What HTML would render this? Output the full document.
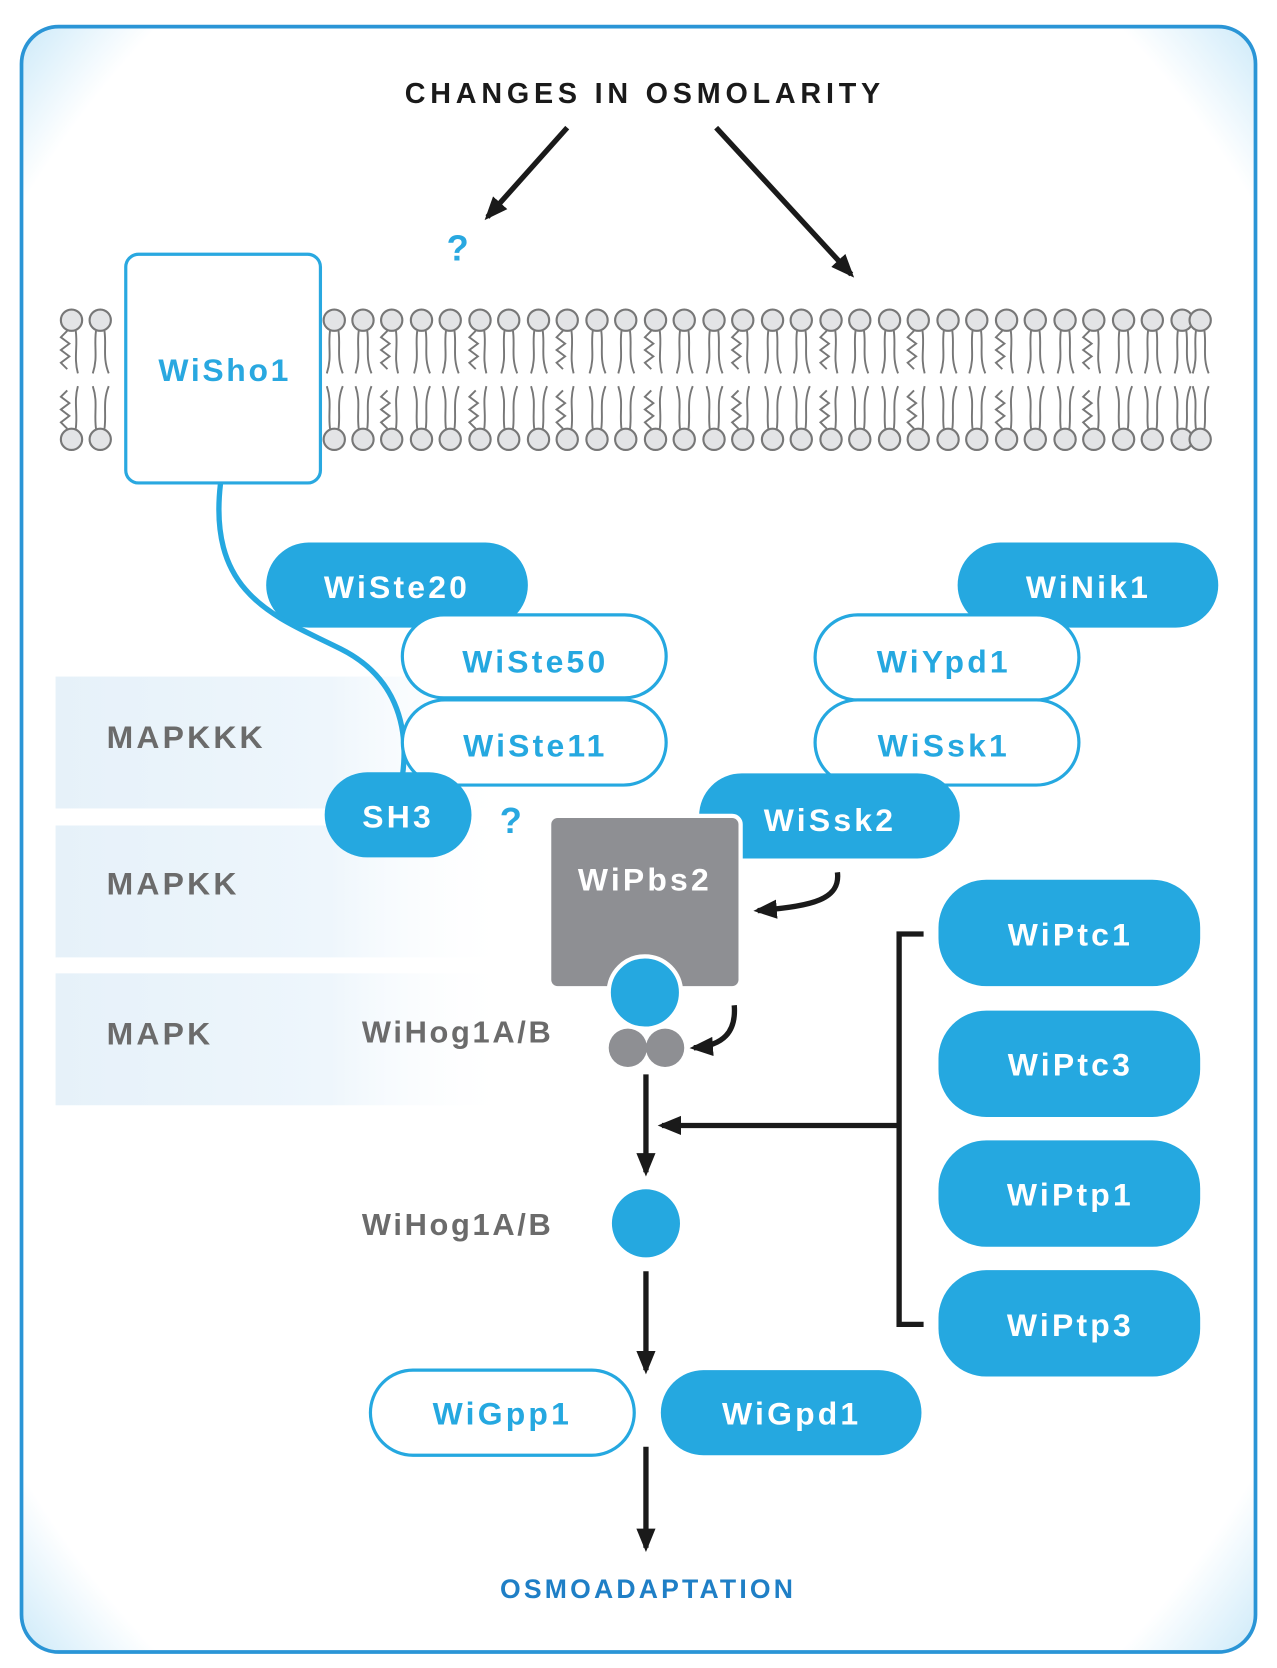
<!DOCTYPE html>
<html><head><meta charset="utf-8"><style>
html,body{margin:0;padding:0;background:#fff;width:1277px;height:1668px;overflow:hidden}
svg{display:block}
text{font-family:"Liberation Sans",sans-serif;font-weight:bold}
</style></head><body>
<svg width="1277" height="1668" viewBox="0 0 1200 1568" xmlns="http://www.w3.org/2000/svg">
<defs>
<radialGradient id="glow" cx="50%" cy="50%" r="72%">
<stop offset="88%" stop-color="#ffffff"/><stop offset="100%" stop-color="#c4e6f8"/>
</radialGradient>
<linearGradient id="band" x1="0" x2="1" y1="0" y2="0">
<stop offset="0" stop-color="#e6f1f9"/><stop offset="0.6" stop-color="#eef6fc"/><stop offset="1" stop-color="#ffffff" stop-opacity="0"/>
</linearGradient>
<marker id="ah" markerWidth="22" markerHeight="22" refX="18" refY="11" orient="auto" markerUnits="userSpaceOnUse">
<path d="M0,2 L22,11 L0,20 z" fill="#1a1a1a"/></marker>
<g id="lip">
<circle cx="0" cy="0" r="10" fill="#e3e4e6" stroke="#777" stroke-width="2"/>
<path d="M-4,10 C-6,25 -2,35 -7,50 M4,10 C6,25 2,35 8,50" fill="none" stroke="#777" stroke-width="1.8"/>
</g>
<g id="lipz">
<circle cx="0" cy="0" r="10" fill="#e3e4e6" stroke="#777" stroke-width="2"/>
<path d="M-4,10 l-6,6 l8,6 l-8,6 l8,6 l-8,6 l6,6 M4,10 C6,25 2,35 6,50" fill="none" stroke="#777" stroke-width="1.8"/>
</g>
</defs>
<rect x="20" y="25" width="1160" height="1528" rx="35" fill="url(#glow)" stroke="#2a95d6" stroke-width="3.5"/>

<rect x="52" y="636" width="430" height="124" fill="url(#band)"/>
<rect x="52" y="776" width="430" height="124" fill="url(#band)"/>
<rect x="52" y="915" width="430" height="124" fill="url(#band)"/>
<g fill="#6b6b6b" font-size="30" letter-spacing="3">
<text x="100" y="703">MAPKKK</text>
<text x="100" y="841">MAPKK</text>
<text x="100" y="982">MAPK</text>
<text x="340" y="980" font-size="29" letter-spacing="2.5">WiHog1A/B</text>
<text x="340" y="1161" font-size="29" letter-spacing="2.5">WiHog1A/B</text>
</g>

<text x="606" y="97" font-size="27" letter-spacing="4.5" text-anchor="middle" fill="#1a1a1a">CHANGES IN OSMOLARITY</text>
<g stroke="#1a1a1a" stroke-width="5" fill="none">
<line x1="533" y1="120" x2="458" y2="204" marker-end="url(#ah)"/>
<line x1="673" y1="120" x2="800" y2="258" marker-end="url(#ah)"/>
</g>
<text x="430" y="245" font-size="34" fill="#29a8e0" text-anchor="middle">?</text>
<text x="480" y="783" font-size="34" fill="#29a8e0" text-anchor="middle">?</text>

<g>
<g transform="translate(0,301)">
<use href="#lipz" x="67"/><use href="#lip" x="94"/><use href="#lip" x="314"/><use href="#lip" x="341"/><use href="#lipz" x="368"/><use href="#lip" x="396"/><use href="#lip" x="423"/><use href="#lipz" x="451"/><use href="#lip" x="478"/><use href="#lip" x="506"/><use href="#lipz" x="533"/><use href="#lip" x="561"/><use href="#lip" x="588"/><use href="#lipz" x="616"/><use href="#lip" x="643"/><use href="#lip" x="671"/><use href="#lipz" x="698"/><use href="#lip" x="726"/><use href="#lip" x="753"/><use href="#lipz" x="781"/><use href="#lip" x="808"/><use href="#lip" x="836"/><use href="#lipz" x="863"/><use href="#lip" x="891"/><use href="#lip" x="918"/><use href="#lipz" x="946"/><use href="#lip" x="973"/><use href="#lip" x="1001"/><use href="#lipz" x="1028"/><use href="#lip" x="1056"/><use href="#lip" x="1083"/><use href="#lip" x="1111"/><use href="#lip" x="1128"/>
</g>
<g transform="translate(0,413) scale(1,-1)">
<use href="#lipz" x="67"/><use href="#lip" x="94"/><use href="#lip" x="314"/><use href="#lip" x="341"/><use href="#lipz" x="368"/><use href="#lip" x="396"/><use href="#lip" x="423"/><use href="#lipz" x="451"/><use href="#lip" x="478"/><use href="#lip" x="506"/><use href="#lipz" x="533"/><use href="#lip" x="561"/><use href="#lip" x="588"/><use href="#lipz" x="616"/><use href="#lip" x="643"/><use href="#lip" x="671"/><use href="#lipz" x="698"/><use href="#lip" x="726"/><use href="#lip" x="753"/><use href="#lipz" x="781"/><use href="#lip" x="808"/><use href="#lip" x="836"/><use href="#lipz" x="863"/><use href="#lip" x="891"/><use href="#lip" x="918"/><use href="#lipz" x="946"/><use href="#lip" x="973"/><use href="#lip" x="1001"/><use href="#lipz" x="1028"/><use href="#lip" x="1056"/><use href="#lip" x="1083"/><use href="#lip" x="1111"/><use href="#lip" x="1128"/>
</g>
</g>

<rect x="118" y="239" width="183" height="215" rx="12" fill="#fff" stroke="#29a8e0" stroke-width="3"/>
<text x="211" y="358" font-size="30" fill="#29a8e0" text-anchor="middle" letter-spacing="2.5">WiSho1</text>

<rect x="250" y="510" width="246" height="80" rx="40" fill="#25a8e0"/>
<text x="373" y="562" font-size="30" fill="#fff" text-anchor="middle" letter-spacing="3">WiSte20</text>
<path d="M207,455 C195,560 260,580 320,610 C370,635 385,680 378,730" fill="none" stroke="#25a8e0" stroke-width="5"/>
<rect x="378" y="578" width="248" height="78" rx="39" fill="#fff" stroke="#25a8e0" stroke-width="3"/>
<text x="503" y="632" font-size="30" fill="#25a8e0" text-anchor="middle" letter-spacing="3">WiSte50</text>
<rect x="378" y="658" width="248" height="80" rx="40" fill="#fff" stroke="#25a8e0" stroke-width="3"/>
<text x="503" y="711" font-size="30" fill="#25a8e0" text-anchor="middle" letter-spacing="3">WiSte11</text>
<rect x="305" y="726" width="138" height="80" rx="40" fill="#25a8e0"/>
<text x="374" y="778" font-size="30" fill="#fff" text-anchor="middle" letter-spacing="3">SH3</text>

<rect x="900" y="510" width="245" height="80" rx="40" fill="#25a8e0"/>
<text x="1023" y="562" font-size="30" fill="#fff" text-anchor="middle" letter-spacing="3">WiNik1</text>
<rect x="766" y="578" width="248" height="80" rx="40" fill="#fff" stroke="#25a8e0" stroke-width="3"/>
<text x="887" y="632" font-size="30" fill="#25a8e0" text-anchor="middle" letter-spacing="3">WiYpd1</text>
<rect x="766" y="658" width="248" height="80" rx="40" fill="#fff" stroke="#25a8e0" stroke-width="3"/>
<text x="887" y="711" font-size="30" fill="#25a8e0" text-anchor="middle" letter-spacing="3">WiSsk1</text>
<rect x="657" y="727" width="245" height="80" rx="40" fill="#25a8e0"/>
<text x="780" y="781" font-size="30" fill="#fff" text-anchor="middle" letter-spacing="3">WiSsk2</text>

<rect x="516" y="767" width="180" height="162" rx="8" fill="#8e8f93" stroke="#fff" stroke-width="4"/>
<text x="606" y="837" font-size="30" fill="#fff" text-anchor="middle" letter-spacing="3">WiPbs2</text>
<circle cx="606" cy="933" r="34" fill="#25a8e0" stroke="#fff" stroke-width="4"/>
<circle cx="590" cy="985" r="18" fill="#8e8f93"/>
<circle cx="625" cy="985" r="18" fill="#8e8f93"/>
<g stroke="#1a1a1a" stroke-width="5" fill="none">
<path d="M787,820 C790,845 765,852 712,856" marker-end="url(#ah)"/>
<path d="M690,945 C692,970 680,983 652,985" marker-end="url(#ah)"/>
<line x1="607" y1="1010" x2="607" y2="1102" marker-end="url(#ah)"/>
<line x1="607" y1="1195" x2="607" y2="1288" marker-end="url(#ah)"/>
<line x1="607" y1="1360" x2="607" y2="1455" marker-end="url(#ah)"/>
<line x1="845" y1="1058" x2="622" y2="1058" marker-end="url(#ah)"/>
<path d="M868,878 H845 V1245 H868"/>
</g>
<circle cx="607" cy="1150" r="32" fill="#25a8e0"/>

<g fill="#25a8e0">
<rect x="882" y="827" width="246" height="100" rx="45"/>
<rect x="882" y="950" width="246" height="100" rx="45"/>
<rect x="882" y="1072" width="246" height="100" rx="45"/>
<rect x="882" y="1194" width="246" height="100" rx="45"/>
</g>
<g fill="#fff" font-size="30" text-anchor="middle" letter-spacing="3">
<text x="1006" y="889">WiPtc1</text>
<text x="1006" y="1011">WiPtc3</text>
<text x="1006" y="1133">WiPtp1</text>
<text x="1006" y="1256">WiPtp3</text>
</g>

<rect x="348" y="1288" width="248" height="80" rx="40" fill="#fff" stroke="#25a8e0" stroke-width="3"/>
<text x="472" y="1339" font-size="30" fill="#25a8e0" text-anchor="middle" letter-spacing="3">WiGpp1</text>
<rect x="621" y="1288" width="245" height="80" rx="40" fill="#25a8e0"/>
<text x="744" y="1339" font-size="30" fill="#fff" text-anchor="middle" letter-spacing="3">WiGpd1</text>
<text x="609" y="1502" font-size="25" fill="#1f7fc6" text-anchor="middle" letter-spacing="3">OSMOADAPTATION</text>
</svg>
</body></html>
